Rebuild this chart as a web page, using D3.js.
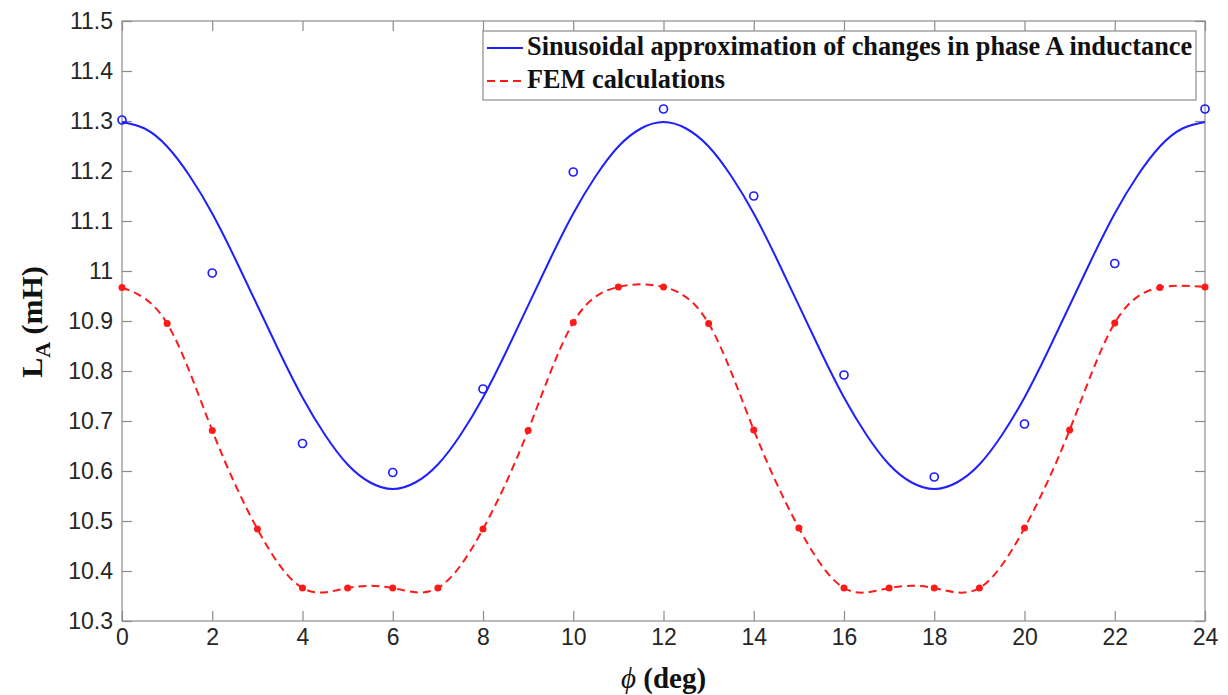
<!DOCTYPE html>
<html>
<head>
<meta charset="utf-8">
<script src="https://cdn.jsdelivr.net/npm/d3@7"></script>
<style>
  body { margin: 0; background: #fff; }
  svg { display: block; }
</style>
</head>
<body>
<svg id="chart"></svg>
<script>
// angle samples (deg)
const phiDeg = d3.range(0, 25);
const phiHalf = d3.range(0, 24.25, 0.5);
const phiMeasured = [0, 2, 4, 6, 8, 10, 12, 14, 16, 18, 20, 22, 24];

// sinusoidal approximation, read every half degree
const sinApprox = [
  11.298, 11.285, 11.249, 11.190, 11.115, 11.026, 10.931, 10.836, 10.747, 10.672, 10.613, 10.577,
  10.564, 10.577, 10.613, 10.672, 10.747, 10.836, 10.931, 11.026, 11.115, 11.190, 11.249, 11.285,
  11.298, 11.285, 11.249, 11.190, 11.115, 11.026, 10.931, 10.836, 10.747, 10.672, 10.613, 10.577,
  10.564, 10.577, 10.613, 10.672, 10.747, 10.836, 10.931, 11.026, 11.115, 11.190, 11.249, 11.285,
  11.298];
// blue circles
const measuredL = [11.302, 10.996, 10.655, 10.597, 10.764, 11.198, 11.324, 11.150, 10.792, 10.588, 10.694, 11.015, 11.324];
// FEM calculations (red)
const femL = [10.967, 10.895, 10.681, 10.484, 10.366, 10.366, 10.366, 10.366, 10.484, 10.681, 10.897, 10.968,
              10.968, 10.895, 10.682, 10.486, 10.366, 10.366, 10.366, 10.366, 10.486, 10.682, 10.896, 10.967, 10.968];

const yTicks = d3.range(10.3, 11.55, 0.1).map(v => +v.toFixed(1));
const xTicks = d3.range(0, 25, 2);

const W = 1228, H = 695;
const margin = { top: 21, right: 23, bottom: 74, left: 122 };
const width = W - margin.left - margin.right;
const height = H - margin.top - margin.bottom;

const svg = d3.select("#chart").attr("width", W).attr("height", H);
const g = svg.append("g").attr("transform", `translate(${margin.left},${margin.top})`);

const x = d3.scaleLinear().domain([0, 24]).range([0, width]);
const y = d3.scaleLinear().domain([10.3, 11.5]).range([height, 0]);

const axisColor = "#8c8c8c";
const labelColor = "#262626";

// box
g.append("rect")
  .attr("width", width).attr("height", height)
  .attr("fill", "none").attr("stroke", axisColor).attr("stroke-width", 1.2);

function styleAxis(sel, showLabels) {
  sel.select(".domain").remove();
  sel.selectAll(".tick line").attr("stroke", axisColor).attr("stroke-width", 1.2);
  sel.selectAll(".tick text")
    .attr("fill", labelColor)
    .style("font-family", "'Liberation Sans', Arial, sans-serif")
    .style("font-size", "23px")
    .style("display", showLabels ? null : "none");
}

const fmt = d => String(+d.toFixed(1));

g.append("g").attr("transform", `translate(0,${height})`)
  .call(d3.axisBottom(x).tickValues(xTicks).tickSize(-10).tickPadding(8).tickFormat(d3.format("d")))
  .call(s => styleAxis(s, true));
g.append("g")
  .call(d3.axisTop(x).tickValues(xTicks).tickSize(-10))
  .call(s => styleAxis(s, false));
g.append("g")
  .call(d3.axisLeft(y).tickValues(yTicks).tickSize(-10).tickPadding(9).tickFormat(fmt))
  .call(s => styleAxis(s, true));
g.append("g").attr("transform", `translate(${width},0)`)
  .call(d3.axisRight(y).tickValues(yTicks).tickSize(-10))
  .call(s => styleAxis(s, false));

const blue = "#1f1fff";
const red = "#ff1a1a";

// sinusoidal curve
g.append("path")
  .datum(phiHalf.map((p, i) => [p, sinApprox[i]]))
  .attr("fill", "none").attr("stroke", blue).attr("stroke-width", 2)
  .attr("d", d3.line().x(d => x(d[0])).y(d => y(d[1])).curve(d3.curveNatural));

// FEM dashed curve
g.append("path")
  .datum(phiDeg.map((p, i) => [p, femL[i]]))
  .attr("fill", "none").attr("stroke", red).attr("stroke-width", 2)
  .attr("stroke-dasharray", "8,5")
  .attr("d", d3.line().x(d => x(d[0])).y(d => y(d[1])).curve(d3.curveNatural));

// blue circle markers
g.selectAll("circle.meas")
  .data(phiMeasured.map((p, i) => [p, measuredL[i]]))
  .enter().append("circle").attr("class", "meas")
  .attr("cx", d => x(d[0])).attr("cy", d => y(d[1])).attr("r", 4)
  .attr("fill", "none").attr("stroke", blue).attr("stroke-width", 1.7);

// red dots
g.selectAll("circle.fem")
  .data(phiDeg.map((p, i) => [p, femL[i]]))
  .enter().append("circle").attr("class", "fem")
  .attr("cx", d => x(d[0])).attr("cy", d => y(d[1])).attr("r", 3.5)
  .attr("fill", red);

// legend
const serif = "'Liberation Serif', 'Times New Roman', serif";
const lg = svg.append("g").attr("transform", "translate(483,31)");
lg.append("rect").attr("width", 713).attr("height", 69)
  .attr("fill", "#fff").attr("stroke", axisColor).attr("stroke-width", 1.2);
const legendItems = [
  { label: "Sinusoidal approximation of changes in phase A inductance", color: blue, dash: null },
  { label: "FEM calculations", color: red, dash: "8,5" }
];
legendItems.forEach((d, i) => {
  const yy = 17 + i * 33;
  lg.append("line").attr("x1", 4).attr("x2", 40).attr("y1", yy).attr("y2", yy)
    .attr("stroke", d.color).attr("stroke-width", 2)
    .attr("stroke-dasharray", d.dash);
  lg.append("text").attr("x", 44).attr("y", yy + 7)
    .attr("fill", "#111")
    .style("font-family", serif).style("font-weight", "bold").style("font-size", "26.3px")
    .text(d.label);
});

// axis labels
svg.append("text")
  .attr("x", margin.left + width / 2).attr("y", 688)
  .attr("text-anchor", "middle").attr("fill", "#111")
  .style("font-family", serif).style("font-weight", "bold").style("font-size", "29px")
  .call(t => {
    t.append("tspan").style("font-style", "italic").style("font-weight", "normal").text("\u03D5");
    t.append("tspan").text(" (deg)");
  });

svg.append("text")
  .attr("transform", "translate(42,322) rotate(-90)")
  .attr("text-anchor", "middle").attr("fill", "#111")
  .style("font-family", serif).style("font-weight", "bold").style("font-size", "30px")
  .call(t => {
    t.append("tspan").text("L");
    t.append("tspan").attr("dy", 8).style("font-size", "22px").text("A");
    t.append("tspan").attr("dy", -8).text(" (mH)");
  });
</script>
</body>
</html>
